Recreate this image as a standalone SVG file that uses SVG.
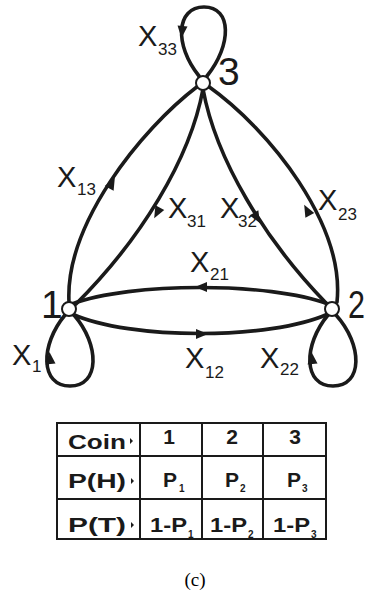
<svg xmlns="http://www.w3.org/2000/svg" xmlns:xlink="http://www.w3.org/1999/xlink" width="369" height="595" viewBox="0 0 369 595">
<style>
.e{fill:none;stroke:#1a1a1a;stroke-width:3.6;stroke-linecap:round}
.n{fill:#fff;stroke:#1a1a1a;stroke-width:2}
.x{font-family:"Liberation Sans",Arial,sans-serif;font-size:29px;fill:#1a1a1a}
.s{font-family:"Liberation Sans",Arial,sans-serif;font-size:17px;fill:#1a1a1a}
.nl{font-family:"Liberation Sans",Arial,sans-serif;font-size:39px;fill:#1a1a1a}
.tb{font-family:"Liberation Sans",Arial,sans-serif;font-weight:bold;font-size:21px;fill:#1a1a1a}
.ts{font-family:"Liberation Sans",Arial,sans-serif;font-weight:bold;font-size:10px;fill:#1a1a1a}
.g{fill:none;stroke:#1a1a1a;stroke-width:2}
.cap{font-family:"Liberation Serif","Times New Roman",serif;font-size:19px;fill:#000}
</style>
<defs>
<path id="ah" d="M6,0 L-6,-5 L-6,5 Z" fill="#1a1a1a"/>
<path id="tri" d="M0,-3 L3,0 L0,3 Z" fill="#1a1a1a"/>
</defs>
<rect width="369" height="595" fill="#fff"/>
<g id="connectors">
<path class="e" d="M69,302 C65,225 140,130 198,86"/>
<path class="e" d="M203,89 C190,160 140,240 76,304"/>
<path class="e" d="M203,89 C216,160 265,240 326,303"/>
<path class="e" d="M208,86 C270,130 345,225 337,302"/>
<path class="e" d="M328,304 C270,282 130,282 72,304"/>
<path class="e" d="M72,314 C130,340 270,340 328,314"/>
<path class="e" d="M74,315 C100,345 100,386 70,386 C40,386 40,345 65,315"/>
<path class="e" d="M336,315 C363,345 363,386 333,386 C303,386 303,345 328,315"/>
<path class="e" d="M207,76 C232,45 232,7 204,7 C176,7 174,45 199,76"/>
<use xlink:href="#ah" transform="translate(112,183) rotate(-62)"/>
<use xlink:href="#ah" transform="translate(157,213) rotate(118)"/>
<use xlink:href="#ah" transform="translate(257,218) rotate(60)"/>
<use xlink:href="#ah" transform="translate(307,210) rotate(-118)"/>
<use xlink:href="#ah" transform="translate(201,287) rotate(180)"/>
<use xlink:href="#ah" transform="translate(202,334)"/>
<use xlink:href="#ah" transform="translate(50,358) rotate(-95)"/>
<use xlink:href="#ah" transform="translate(312,358) rotate(-95)"/>
<use xlink:href="#ah" transform="translate(182,32) rotate(95)"/>
</g>
<g id="edge-labels">
<text class="x" x="138" y="46">X</text><text class="s" x="158" y="55">33</text>
<text class="x" x="57" y="187">X</text><text class="s" x="77" y="195">13</text>
<text class="x" x="168" y="218">X</text><text class="s" x="187" y="227">31</text>
<text class="x" x="220" y="218">X</text><text class="s" x="238" y="227">32</text>
<text class="x" x="318" y="210">X</text><text class="s" x="338" y="220">23</text>
<text class="x" x="190" y="272">X</text><text class="s" x="210" y="280">21</text>
<text class="x" x="185" y="368">X</text><text class="s" x="205" y="378">12</text>
<text class="x" x="12" y="365">X</text><text class="s" x="32" y="372">1</text>
<text class="x" x="260" y="368">X</text><text class="s" x="280" y="375">22</text>
</g>
<g id="node1"><circle class="n" cx="69" cy="309" r="7"/><text class="nl" x="41" y="318">1</text></g>
<g id="node2"><circle class="n" cx="332" cy="309" r="7"/><text class="nl" x="348" y="318" font-size="37" textLength="17" lengthAdjust="spacingAndGlyphs">2</text></g>
<g id="node3"><circle class="n" cx="203" cy="83" r="7"/><text class="nl" x="218" y="85">3</text></g>
<g id="table">
<rect class="g" x="57" y="423" width="269" height="116"/>
<line class="g" x1="57" y1="456" x2="326" y2="456"/>
<line class="g" x1="57" y1="499" x2="326" y2="499"/>
<line class="g" x1="140" y1="423" x2="140" y2="539"/>
<line class="g" x1="202" y1="423" x2="202" y2="539"/>
<line class="g" x1="263" y1="423" x2="263" y2="539"/>
<text class="tb" x="68" y="449" textLength="58" lengthAdjust="spacingAndGlyphs">Coin</text>
<use xlink:href="#tri" transform="translate(130,441)"/>
<text class="tb" x="68" y="488" textLength="58" lengthAdjust="spacingAndGlyphs">P(H)</text>
<use xlink:href="#tri" transform="translate(131,481)"/>
<text class="tb" x="68" y="532" textLength="58" lengthAdjust="spacingAndGlyphs">P(T)</text>
<use xlink:href="#tri" transform="translate(131,525)"/>
<text class="tb" x="169" y="444" text-anchor="middle" font-size="25">1</text>
<text class="tb" x="232" y="444" text-anchor="middle" font-size="25">2</text>
<text class="tb" x="295" y="444" text-anchor="middle" font-size="25">3</text>
<text class="tb" x="163" y="487">P</text><text class="ts" x="179" y="492">1</text>
<text class="tb" x="225" y="487">P</text><text class="ts" x="240" y="492">2</text>
<text class="tb" x="287" y="487">P</text><text class="ts" x="302" y="492">3</text>
<text class="tb" x="150" y="532" textLength="37" lengthAdjust="spacingAndGlyphs">1-P</text><text class="ts" x="188" y="538">1</text>
<text class="tb" x="210" y="532" textLength="37" lengthAdjust="spacingAndGlyphs">1-P</text><text class="ts" x="248" y="538">2</text>
<text class="tb" x="273" y="532" textLength="37" lengthAdjust="spacingAndGlyphs">1-P</text><text class="ts" x="311" y="538">3</text>
</g>
<text class="cap" x="195" y="586" text-anchor="middle">(c)</text>
</svg>
